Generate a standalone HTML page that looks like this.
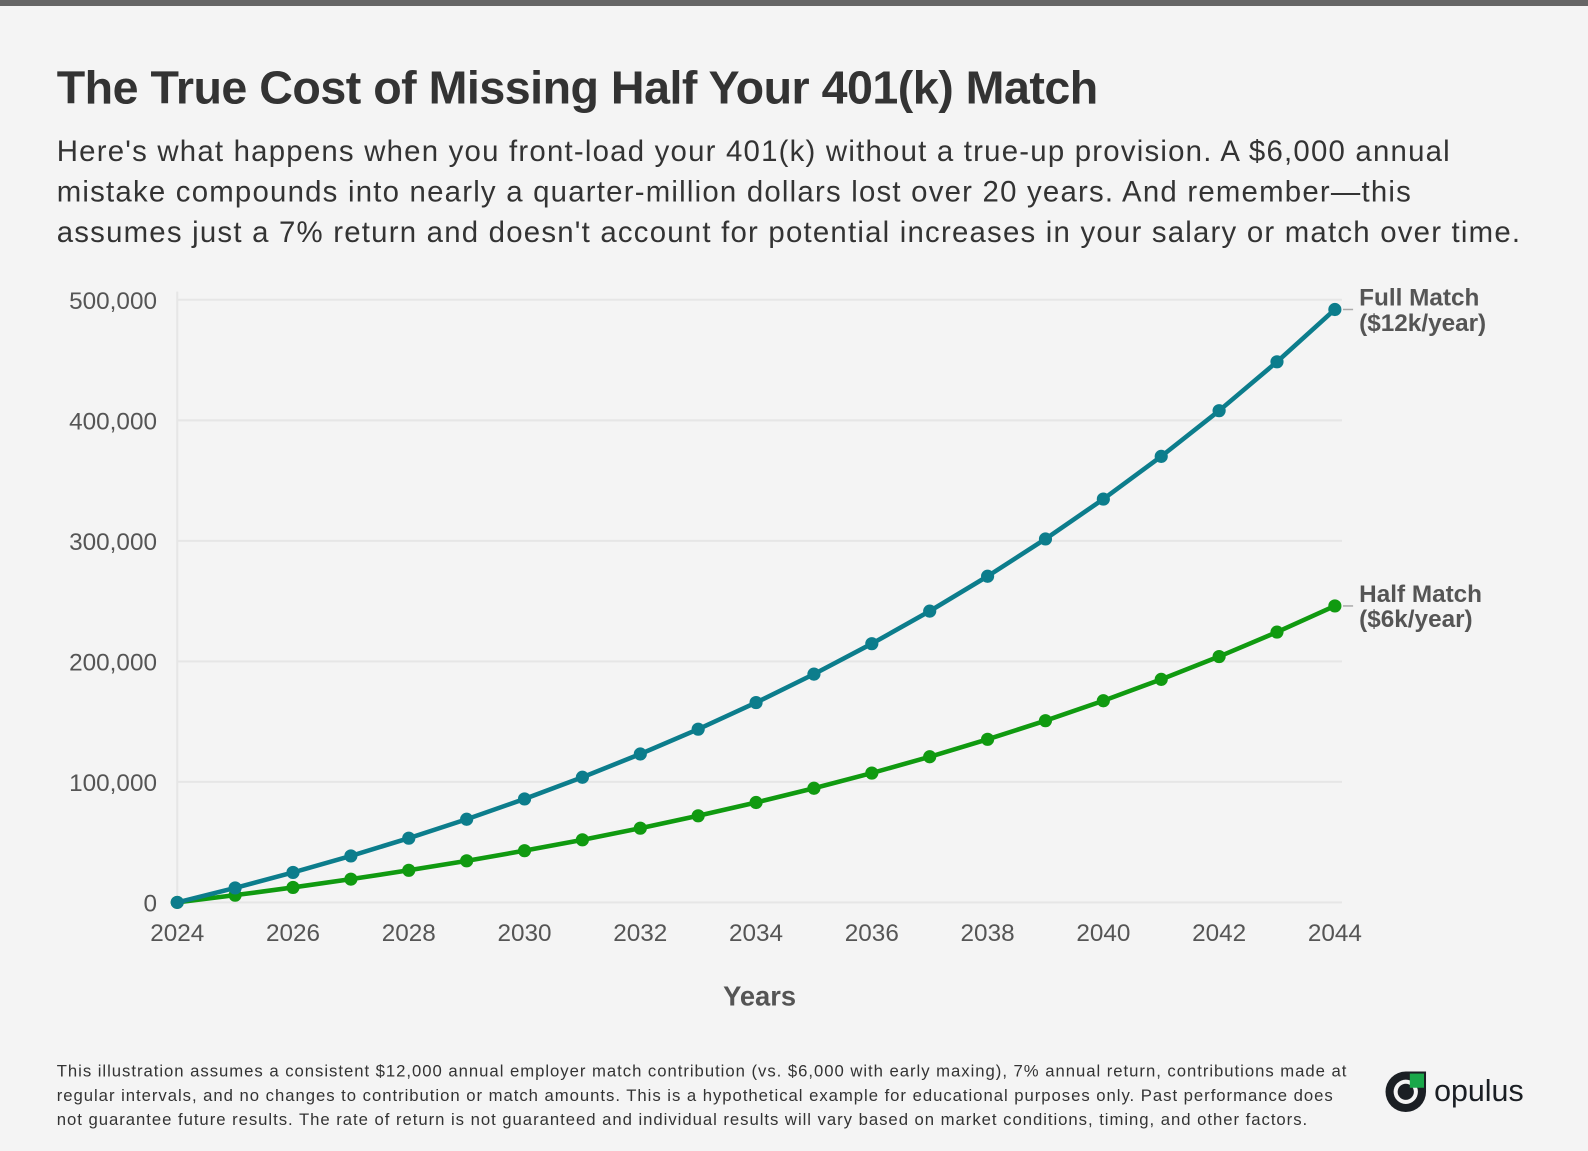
<!DOCTYPE html>
<html><head><meta charset="utf-8">
<style>
html,body{margin:0;padding:0;background:#f4f4f4;width:1588px;height:1150px;overflow:hidden;font-family:"Liberation Sans",sans-serif;color:#333}
#root{position:absolute;left:0;top:0;width:1568px;height:1136px;transform:scale(1.0128);transform-origin:0 0}
#topbar{position:absolute;left:0;top:0;width:1588px;height:6px;background:#666}
h1{position:absolute;left:56px;top:59px;margin:0;font-size:46px;font-weight:bold;color:#333;letter-spacing:-0.5px;white-space:nowrap}
#sub{position:absolute;left:56px;top:130px;font-size:29px;line-height:40px;color:#333;letter-spacing:1.2px;white-space:nowrap}
#foot{position:absolute;left:56px;top:1046px;font-size:16.5px;line-height:24px;color:#333;white-space:nowrap;letter-spacing:0.95px}
svg{position:absolute;left:0;top:0}
</style></head><body>
<div id="topbar"></div>
<div id="root">
<h1>The True Cost of Missing Half Your 401(k) Match</h1>
<div id="sub">Here's what happens when you front-load your 401(k) without a true-up provision. A $6,000 annual<br>mistake compounds into nearly a quarter-million dollars lost over 20 years. And remember—this<br>assumes just a 7% return and doesn't account for potential increases in your salary or match over time.</div>
<svg id="chart" width="1568" height="1136"></svg>
<div id="foot">This illustration assumes a consistent $12,000 annual employer match contribution (vs. $6,000 with early maxing), 7% annual return, contributions made at<br>regular intervals, and no changes to contribution or match amounts. This is a hypothetical example for educational purposes only. Past performance does<br>not guarantee future results. The rate of return is not guaranteed and individual results will vary based on market conditions, timing, and other factors.</div>
<div style="position:absolute;left:1368px;top:1056px;width:150px;height:44px">
<svg width="150" height="44" style="position:absolute;left:0;top:0">
<path d="M20 2 H40 V22 A20 20 0 1 1 20 2 Z" fill="#1b1f24"/>
<circle cx="20" cy="22" r="12" fill="#f4f4f4"/>
<circle cx="20" cy="22" r="8" fill="#1b1f24"/>
<rect x="24" y="4" width="14" height="14" fill="#1aa84a"/>
<text x="48" y="31" font-size="30" fill="#1b1f24" font-family="Liberation Sans, sans-serif">opulus</text>
</svg></div>
</div>
<script>
const years=[2024,2025,2026,2027,2028,2029,2030,2031,2032,2033,2034,2035,2036,2037,2038,2039,2040,2041,2042,2043,2044];
const fullMatch=[0,12000,24840,38579,53279,69009,85839,103848,123117,143736,165798,189404,214662,241689,270607,301549,334658,370084,407990,448549,491947];
const halfMatch=[0,6000,12420,19289,26640,34504,42919,51924,61559,71868,82899,94702,107331,120844,135304,150775,167329,185042,203995,224274,245973];
const yTicks=[0,100000,200000,300000,400000,500000];
const xTicks=[2024,2026,2028,2030,2032,2034,2036,2038,2040,2042,2044];
const NS="http://www.w3.org/2000/svg";
const svg=document.getElementById('chart');
const x=v=>175+(v-2024)*(1318-175)/20;
const y=v=>891-v*(891-296)/500000;
function mk(t,a,p){const e=document.createElementNS(NS,t);for(const k in a)e.setAttribute(k,a[k]);(p||svg).appendChild(e);return e;}
yTicks.forEach(t=>{
 const g=mk('line',{x1:175,x2:1325,y1:y(t),y2:y(t),stroke:'#e6e6e6','stroke-width':2});
 
 
 const l=mk('text',{x:155,y:y(t)+9,'text-anchor':'end','font-size':24,fill:'#555'});
 l.textContent=t.toLocaleString('en-US');
 
 
});
const ax=mk('line',{x1:175,x2:175,y1:288,y2:891,stroke:'#e6e6e6','stroke-width':2});


xTicks.forEach(t=>{
 const l=mk('text',{x:x(t),y:929,'text-anchor':'middle','font-size':24,fill:'#555'});
 l.textContent=t;
 
 
});
const xt=mk('text',{x:750,y:993,'text-anchor':'middle','font-size':27,'font-weight':'bold',fill:'#555'});
xt.textContent='Years';


function series(vals,color,name,label1,label2){
 const pts=vals.map((v,i)=>x(years[i])+','+y(v)).join(' ');
 const pl=mk('polyline',{points:pts,fill:'none',stroke:color,'stroke-width':4.5,'stroke-linejoin':'round'});
 
 
 vals.forEach((v,i)=>{
  const c=mk('circle',{cx:x(years[i]),cy:y(v),r:6.5,fill:color});
  
  
 });
 const lv=vals[vals.length-1];
 const cl=mk('line',{x1:1326,x2:1336,y1:y(lv),y2:y(lv),stroke:'#aaa','stroke-width':1.5});
 
 
 const t=mk('text',{x:1342,y:y(lv)-4,'font-size':24,'font-weight':'bold',fill:'#555'});
 
 
 const s1=mk('tspan',{x:1342},t);s1.textContent=label1;
 const s2=mk('tspan',{x:1342,dy:25},t);s2.textContent=label2;
}
series(halfMatch,'#109a10','half-match','Half Match','($6k/year)');
series(fullMatch,'#0c7d8c','full-match','Full Match','($12k/year)');
</script>
</body></html>
